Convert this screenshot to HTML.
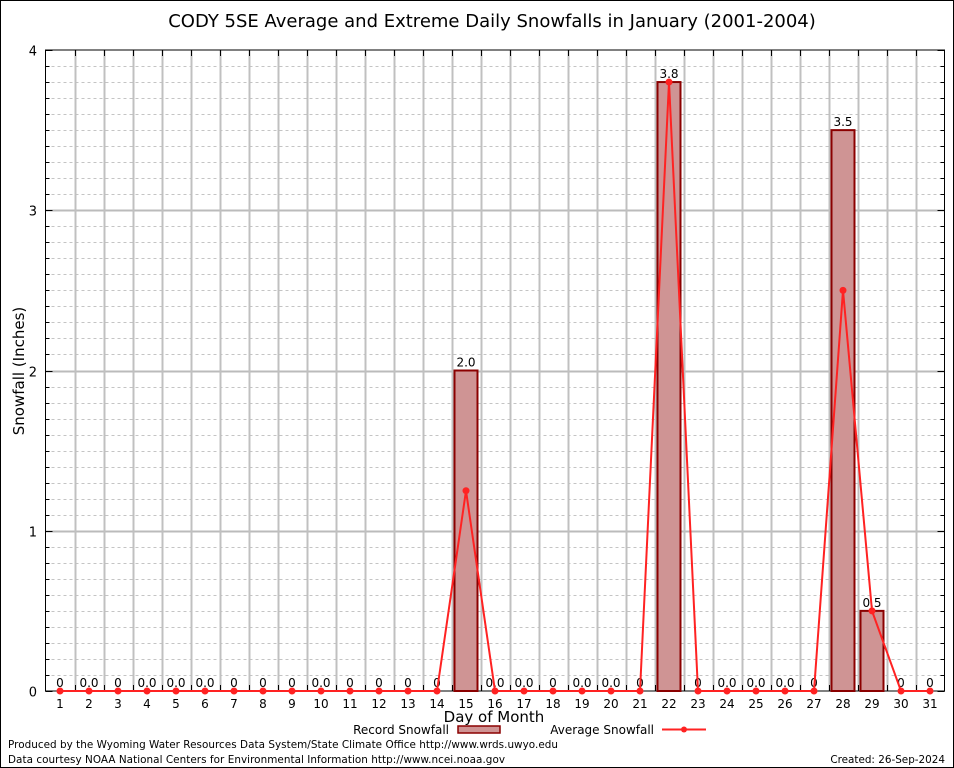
<!DOCTYPE html>
<html><head><meta charset="utf-8"><style>
html,body{margin:0;padding:0;background:#fff}
svg{display:block}
text{font-family:"DejaVu Sans","Liberation Sans",sans-serif}
</style></head><body>
<svg id="chart" width="954" height="768" xmlns="http://www.w3.org/2000/svg">
<rect x="0.5" y="0.5" width="953" height="767" fill="#fff" stroke="#000"/>
<text x="492" y="27" font-size="18" text-anchor="middle">CODY 5SE Average and Extreme Daily Snowfalls in January (2001-2004)</text>
<text transform="translate(24,371) rotate(-90)" font-size="15" text-anchor="middle">Snowfall (Inches)</text>
<text x="494" y="722" font-size="15" text-anchor="middle">Day of Month</text>
<g id="grid"></g>
<g id="marks"></g>
<g>
<text x="449" y="734" font-size="12" text-anchor="end">Record Snowfall</text>
<rect x="458" y="726" width="42" height="7" fill="#cf9494" stroke="#8b0000" stroke-width="1.5"/>
<text x="654" y="734" font-size="12" text-anchor="end">Average Snowfall</text>
<line x1="662" y1="729.5" x2="706" y2="729.5" stroke="#f22" stroke-width="2"/>
<circle cx="684" cy="729.5" r="3" fill="#f22"/>
</g>
<text x="8" y="748" font-size="10.4" textLength="550">Produced by the Wyoming Water Resources Data System/State Climate Office http://www.wrds.uwyo.edu</text>
<text x="8" y="763" font-size="10.4" textLength="497">Data courtesy NOAA National Centers for Environmental Information http://www.ncei.noaa.gov</text>
<text x="945" y="763" font-size="10.4" text-anchor="end">Created:  26-Sep-2024</text>
</svg>
<script>
const days=[1,2,3,4,5,6,7,8,9,10,11,12,13,14,15,16,17,18,19,20,21,22,23,24,25,26,27,28,29,30,31];
const recordSnow=[0,0,0,0,0,0,0,0,0,0,0,0,0,0,2.0,0,0,0,0,0,0,3.8,0,0,0,0,0,3.5,0.5,0,0];
const avgSnow=[0,0,0,0,0,0,0,0,0,0,0,0,0,0,1.25,0,0,0,0,0,0,3.8,0,0,0,0,0,2.5,0.5,0,0];
const valueLabels=["0","0.0","0","0.0","0.0","0.0","0","0","0","0.0","0","0","0","0","2.0","0.0","0.0","0","0.0","0.0","0","3.8","0","0.0","0.0","0.0","0","3.5","0.5","0","0"];
const yTicks=[0,1,2,3,4];
const NS="http://www.w3.org/2000/svg";
const L=45.5,R=944.5,T=50,B=691;
const x=d=>60+(d-1)*29;
const y=v=>B-(v/4)*(B-T);
function mk(tag,attrs,parent){const e=document.createElementNS(NS,tag);for(const k in attrs)e.setAttribute(k,attrs[k]);parent.appendChild(e);return e;}
const grid=document.getElementById('grid'),marks=document.getElementById('marks');
for(let i=1;i<40;i++){if(i%10===0)continue;const yy=Math.round(y(i/10))+0.5;
const l=mk('line',{x1:L,x2:R,y1:yy,y2:yy,stroke:'#c4c4c4','stroke-dasharray':'3,3'},grid);


mk('line',{x1:R-4,x2:R,y1:yy,y2:yy,stroke:'#000'},grid);mk('line',{x1:L,x2:L+4,y1:yy,y2:yy,stroke:'#000'},grid);}
yTicks.forEach(t=>{const yy=Math.round(y(t))+0.5;
if(t>0&&t<4){const l=mk('line',{x1:L,x2:R,y1:yy,y2:yy,stroke:'#bbb','stroke-width':2},grid);

}
mk('line',{x1:L,x2:L+7,y1:yy,y2:yy,stroke:'#000'},grid);mk('line',{x1:R-7,x2:R,y1:yy,y2:yy,stroke:'#000'},grid);
const tx=mk('text',{x:37,y:yy+5,'font-size':13,'text-anchor':'end','font-family':'Liberation Serif, serif'},grid);tx.textContent=t;

});
for(let i=0;i<days.length-1;i++){const xx=Math.round(x(days[i])+14.5)+0.5;
const l=mk('line',{x1:xx,x2:xx,y1:T,y2:B,stroke:'#c0c0c0','stroke-width':2},grid);


mk('line',{x1:xx,x2:xx,y1:B-6,y2:B,stroke:'#000'},grid);mk('line',{x1:xx,x2:xx,y1:T,y2:T+6,stroke:'#000'},grid);}
const fr=mk('rect',{x:L,y:T,width:R-L,height:B-T,fill:'none',stroke:'#000'},grid);


days.forEach((d,i)=>{
 const tx=mk('text',{x:x(d),y:B+17,'font-size':12,'text-anchor':'middle','font-family':'Liberation Serif, serif'},grid);tx.textContent=d;
 
 
 if(recordSnow[i]>0){const r=mk('rect',{x:x(d)-11.5,y:y(recordSnow[i]),width:23,height:B-y(recordSnow[i]),fill:'#cf9494',stroke:'#8b0000','stroke-width':2},marks);
 
 }
 const lb=mk('text',{x:x(d),y:y(recordSnow[i])-4,'font-size':12,'text-anchor':'middle'},marks);lb.textContent=valueLabels[i];
 
 
});
const pl=mk('polyline',{points:days.map((d,i)=>x(d)+','+y(avgSnow[i])).join(' '),fill:'none',stroke:'#f22','stroke-width':2},marks);


days.forEach((d,i)=>{const c=mk('circle',{cx:x(d),cy:y(avgSnow[i]),r:3.5,fill:'#f22'},marks);

});
</script>
</body></html>
